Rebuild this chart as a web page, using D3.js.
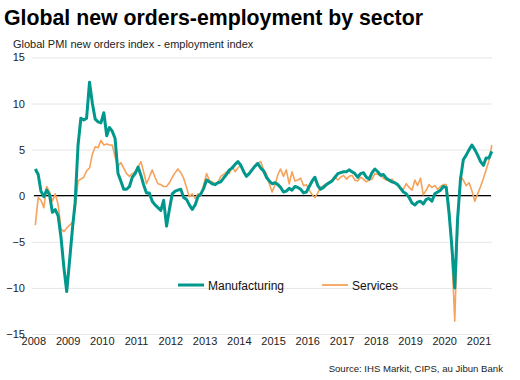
<!DOCTYPE html>
<html>
<head>
<meta charset="utf-8">
<script src="https://cdn.jsdelivr.net/npm/d3@7"></script>
<style>
  html, body { margin: 0; padding: 0; background: #fff; }
  svg { display: block; font-family: "Liberation Sans", Arial, sans-serif; }
</style>
</head>
<body>
<svg id="chart" width="520" height="380"></svg>
<script>
// ---- data ----
const startYear = 2008;
const yearLabels = ["2008","2009","2010","2011","2012","2013","2014","2015","2016","2017","2018","2019","2020","2021"];
const yTicks = [-15, -10, -5, 0, 5, 10, 15];
const seriesNames = ["Manufacturing", "Services"];

const manufacturing = [
  2.9, 2.3, 0.5, -0.1, 0.6, 0.1, -1.8, -1.5, -2.2, -4.5, -7.8, -10.4,
  -7.0, -3.5, -0.7, 5.5, 8.4, 8.2, 8.4, 12.3, 10.0, 8.3, 8.0, 7.9,
  9.0, 6.5, 7.4, 7.0, 6.2, 2.4, 1.6, 0.7, 0.7, 1.0, 2.0, 2.4,
  3.1, 2.2, 1.2, 0.3, 0.3, -0.6, -1.0, -1.3, -1.6, -0.5, -3.3, -1.5,
  0.2, 0.5, 0.6, 0.7, -0.2, -0.4, -1.0, -1.5, -1.0, -0.1, 0.2, 0.8,
  1.7, 1.5, 1.3, 1.2, 1.4, 1.5, 1.9, 2.3, 2.8, 3.0, 3.4, 3.7,
  3.3, 2.6, 2.1, 2.4, 2.8, 3.2, 3.5, 3.0, 2.7, 2.0, 1.6, 1.3,
  1.4, 1.2, 0.9, 0.4, 0.5, 0.8, 0.6, 1.0, 0.9, 0.7, 0.3, 0.4,
  1.0, 1.6, 2.0, 1.1, 0.7, 0.9, 1.2, 1.4, 1.6, 2.0, 2.4, 2.5,
  2.6, 2.6, 2.8, 2.6, 2.4, 2.0, 2.4, 2.5, 2.0, 1.8, 2.5, 2.9,
  2.6, 2.2, 2.3, 1.9, 1.7, 1.5, 1.4, 1.2, 0.8, 0.4, 0.2, -0.2,
  -0.8, -1.0, -0.7, -0.6, -0.9, -0.4, -0.3, -0.6, 0.2, 0.4, 0.6, 1.0,
  0.9, -2.0, -5.5, -10.0, -2.5, 1.8, 3.9, 4.4, 5.0, 5.5, 5.0, 4.4,
  3.7, 3.3, 4.1, 4.1, 4.8
];

const services = [
  -3.2, -0.2, -0.5, -1.3, 1.0, 0.4, -0.6, 0.2, -1.0, -3.6, -3.9, -3.5,
  -3.2, -2.9, -1.5, 1.6, 1.8, 2.0, 2.7, 3.0, 4.5, 5.3, 5.2, 6.0,
  5.5, 5.6, 5.5, 5.5, 4.2, 3.2, 3.6, 3.0, 2.4, 2.1, 2.4, 2.6,
  3.1, 3.7, 2.6, 1.3, 2.0, 2.8, 2.0, 1.3, 1.2, 1.0, 1.0, 1.4,
  2.0, 2.5, 2.9, 2.5, 1.9, 0.9, -0.1, 0.2, -0.3, 0.2, 0.0, 1.2,
  2.4, 1.6, 1.5, 1.3, 1.4, 2.1, 2.3, 2.6, 2.4, 3.2, 2.6, 3.0,
  3.3, 2.5, 2.2, 2.5, 2.9, 3.3, 3.5, 3.7, 2.8, 2.4, 1.3, 0.4,
  1.2, 2.3, 2.9, 2.1, 2.8, 1.3, 2.6, 1.6, 1.7, 1.9, 1.1, 1.2,
  0.6, 0.1, -0.2, 0.3, 0.9, 1.1, 1.2, 1.5, 1.7, 2.0, 1.7, 2.0,
  2.2, 1.8, 2.1, 2.2, 1.7, 1.6, 2.0, 1.8, 1.5, 1.7, 1.8, 2.4,
  2.3, 2.2, 1.9, 1.7, 1.6, 1.8, 1.4, 1.2, 0.8, 0.7, 1.3, 0.9,
  0.6, 1.7, 1.1, 1.9, 0.1, 0.6, 1.2, 0.9, 1.1, 0.7, 1.0, 1.2,
  1.2, -1.0, -6.5, -13.6, -3.5, 2.1, 1.7, 1.1, 1.4, 0.5, -0.6, 0.2,
  1.0, 1.9, 2.8, 3.8, 5.5
];

// ---- chart ----
const svg = d3.select("#chart");
const colors = { Manufacturing: "#00978c", Services: "#f5a25a" };

const dates = manufacturing.map((_, i) => new Date(startYear, i, 1));
const x = d3.scaleTime()
  .domain([dates[0], dates[dates.length - 1]])
  .range([35.3, 491.8]);
const y = d3.scaleLinear().domain([-15, 15]).range([334, 57.4]);

// title & subtitle
svg.append("text").attr("x", 4).attr("y", 25)
  .attr("font-size", 21.3).attr("font-weight", "bold").attr("fill", "#000")
  .text("Global new orders-employment by sector");
svg.append("text").attr("x", 13).attr("y", 48)
  .attr("font-size", 11).attr("fill", "#222")
  .text("Global PMI new orders index - employment index");

// gridlines + y labels
const yAxis = d3.axisLeft(y).tickValues(yTicks).tickSize(-(492 - 32)).tickPadding(7).tickFormat(d3.format("d"));
const gy = svg.append("g").attr("transform", "translate(32,0)").call(yAxis);
gy.select(".domain").remove();
gy.selectAll(".tick line").attr("stroke", "#e6e6e6").attr("stroke-width", 1);
gy.selectAll(".tick text").attr("font-size", 11).attr("fill", "#222")
  .attr("font-family", "Liberation Sans, Arial, sans-serif");

// zero line
svg.append("line")
  .attr("x1", 34).attr("x2", 491)
  .attr("y1", y(0)).attr("y2", y(0))
  .attr("stroke", "#000").attr("stroke-width", 1.3);

// x axis labels
const yearDates = yearLabels.map(s => new Date(+s, 0, 1));
const xAxis = d3.axisBottom(x).tickValues(yearDates).tickSize(0).tickPadding(0)
  .tickFormat((d, i) => yearLabels[i]);
const gx = svg.append("g").attr("transform", "translate(-2,337)").call(xAxis);
gx.select(".domain").remove();
gx.selectAll(".tick text").attr("font-size", 11).attr("fill", "#222").attr("dy", "0.71em")
  .attr("font-family", "Liberation Sans, Arial, sans-serif");

// lines
const line = d3.line().x((d, i) => x(dates[i])).y(d => y(d)).curve(d3.curveLinear);
svg.append("path").datum(services)
  .attr("fill", "none").attr("stroke", colors.Services).attr("stroke-width", 1.6)
  .attr("stroke-linejoin", "round").attr("d", line);
svg.append("path").datum(manufacturing)
  .attr("fill", "none").attr("stroke", colors.Manufacturing).attr("stroke-width", 3)
  .attr("stroke-linejoin", "round").attr("d", line);

// legend
const legendItems = [
  { name: seriesNames[0], x0: 178, w: 3 },
  { name: seriesNames[1], x0: 322, w: 1.8 }
];
const lg = svg.append("g");
legendItems.forEach(it => {
  lg.append("line").attr("x1", it.x0).attr("x2", it.x0 + 26).attr("y1", 285).attr("y2", 285)
    .attr("stroke", colors[it.name]).attr("stroke-width", it.w);
  lg.append("text").attr("x", it.x0 + 30).attr("y", 289.5)
    .attr("font-size", 12).attr("fill", "#111").text(it.name);
});

// source
svg.append("text").attr("x", 503).attr("y", 372).attr("text-anchor", "end")
  .attr("font-size", 9.6).attr("fill", "#222")
  .text("Source: IHS Markit, CIPS, au Jibun Bank");
</script>
</body>
</html>
